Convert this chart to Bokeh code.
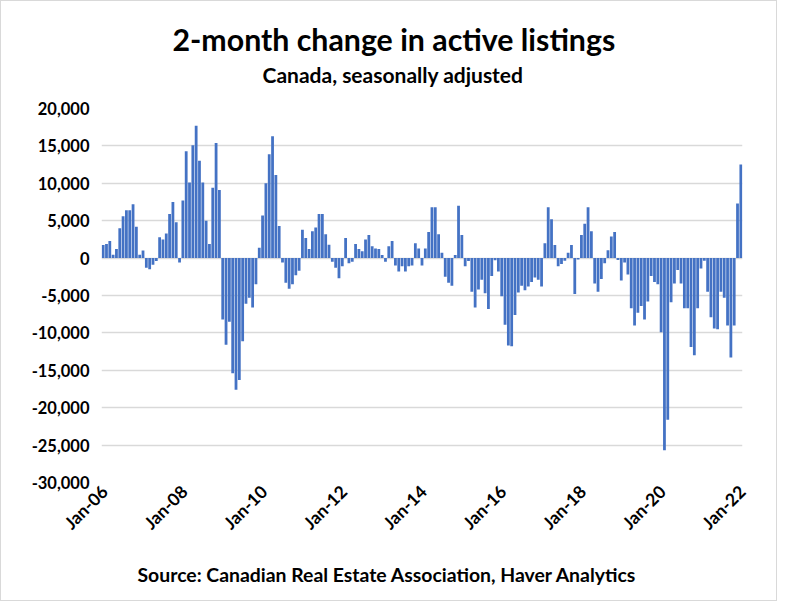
import math
from bokeh.plotting import figure
from bokeh.models import ColumnDataSource, FixedTicker, NumeralTickFormatter, Title, Range1d
from bokeh.embed import file_html
from bokeh.resources import INLINE

# 2-month change in active listings, monthly, Jan-2006 .. Jan-2022
vals_2006_07 = [1750, 1900, 2300, 450, 1200, 4000, 5600, 6400, 6400, 7200, 4200, 450,
                1000, -1300, -1500, -900, -400, 2800, 2500, 3300, 5900, 7500, 4800, -600]
vals_2008_09 = [7700, 14300, 10100, 15100, 17700, 13000, 10100, 5000, 1900, 9400, 15400, 9100,
                -8200, -11600, -8500, -15400, -17600, -16300, -11100, -6100, -5300, -6600, -3500, 1400]
vals_2010_11 = [5700, 10000, 13900, 16300, 11100, 4300, -600, -3300, -4100, -3500, -2300, -1700,
                3800, 2700, 1200, 3600, 4100, 5900, 5900, 3200, 1800, -500, -1300, -2700]
vals_2012_13 = [-1100, 2700, -700, -500, 1900, 1200, 900, 2500, 3100, 1600, 1300, 1200,
                400, -500, 1600, 2300, -1000, -1800, -1100, -1800, -1100, -1000, 2000, 1300]
vals_2014_15 = [-1000, 1300, 3500, 6800, 6800, 3200, 700, -2500, -3300, -3700, 400, 7000,
                3100, -1100, -400, -4500, -6600, -4200, -2900, -4700, -6800, -2400, -300, -1800]
vals_2016_17 = [-5100, -8900, -11700, -11800, -7600, -4600, -3700, -4300, -3800, -3200, -2600, -2900,
                -3800, 2000, 6800, 5200, 1750, -1100, -800, -350, 700, 1750, -4800, -200]
vals_2018_19 = [3100, 4600, 6800, 3600, -3400, -4500, -2800, -700, 1050, 2900, 3500, -250,
                -3000, -600, -2200, -6700, -9000, -7300, -6400, -8200, -5800, -2400, -3200, -3500]
vals_2020_22 = [-9900, -25700, -21600, -5900, -3400, -1600, -3400, -6700, -6700, -11900, -13000, -6700,
                -1400, -350, -4500, -7900, -9400, -9500, -4500, -5300, -9000, -13300, -9000, 7300,
                12500]

values = (vals_2006_07 + vals_2008_09 + vals_2010_11 + vals_2012_13 +
          vals_2014_15 + vals_2016_17 + vals_2018_19 + vals_2020_22)
months = list(range(len(values)))

tick_labels = ["Jan-06", "Jan-08", "Jan-10", "Jan-12", "Jan-14",
               "Jan-16", "Jan-18", "Jan-20", "Jan-22"]
tick_months = [i * 24 for i in range(len(tick_labels))]
y_ticks = list(range(-30000, 20001, 5000))

title_text = "2-month change in active listings"
subtitle_text = "Canada, seasonally adjusted"
source_text = "Source: Canadian Real Estate Association, Haver Analytics"

FONT = "Lato"

src = ColumnDataSource(dict(x=months, v=values))

p = figure(width=777, height=601, output_backend="svg", toolbar_location=None,
           x_range=Range1d(-0.5, len(values) - 0.5), y_range=Range1d(-30000, 20000),
           min_border_left=100, min_border_right=36, min_border_top=107, min_border_bottom=117,
           title=None)
p.outline_line_color = None
p.background_fill_color = "white"
p.border_fill_color = "white"
p.styles = {"border": "1px solid #d9d9d9"}

p.vbar(x="x", top="v", bottom=0, width=0.84, source=src,
       fill_color="#4472C4", line_color=None)

p.xgrid.grid_line_color = None
p.ygrid.grid_line_color = "#d9d9d9"
p.ygrid.grid_line_width = 1.3

p.yaxis.ticker = FixedTicker(ticks=y_ticks)
p.yaxis.formatter = NumeralTickFormatter(format="0,0")
p.yaxis.axis_line_color = None
p.yaxis.major_tick_line_color = None
p.yaxis.minor_tick_line_color = None
p.yaxis.major_tick_out = 0
p.yaxis.major_label_standoff = 12
p.yaxis.major_label_text_font = FONT
p.yaxis.major_label_text_font_size = "16.5px"
p.yaxis.major_label_text_font_style = "bold"
p.yaxis.major_label_text_color = "black"

# label anchors nudged slightly right (kept inside the x range)
tick_pos = [m + 0.45 for m in tick_months]
p.xaxis.ticker = FixedTicker(ticks=tick_pos)
p.xaxis.major_label_overrides = {t: lab for t, lab in zip(tick_pos, tick_labels)}
p.xaxis.axis_line_color = None
p.xaxis.major_tick_line_color = None
p.xaxis.minor_tick_line_color = None
p.xaxis.major_tick_out = 0
p.xaxis.major_label_standoff = 6
p.xaxis.major_label_orientation = math.pi / 4
p.xaxis.major_label_text_font = FONT
p.xaxis.major_label_text_font_size = "17.5px"
p.xaxis.major_label_text_font_style = "bold"
p.xaxis.major_label_text_color = "black"

# spacer between frame and subtitle
spacer = Title(text=".", align="left", standoff=19, text_font_size="2px", text_color="white")
p.add_layout(spacer, "above")
sub = Title(text=subtitle_text, align="left", offset=161, standoff=0,
            text_font=FONT, text_font_size="21px", text_font_style="bold", text_color="black")
p.add_layout(sub, "above")
main = Title(text=title_text, align="left", offset=71, standoff=6,
             text_font=FONT, text_font_size="30.3px", text_font_style="bold", text_color="black")
p.add_layout(main, "above")
foot = Title(text=source_text, align="left", offset=36, standoff=34,
             text_font=FONT, text_font_size="19.4px", text_font_style="bold", text_color="black")
p.add_layout(foot, "below")

open("out.html", "w").write(file_html(p, INLINE))
